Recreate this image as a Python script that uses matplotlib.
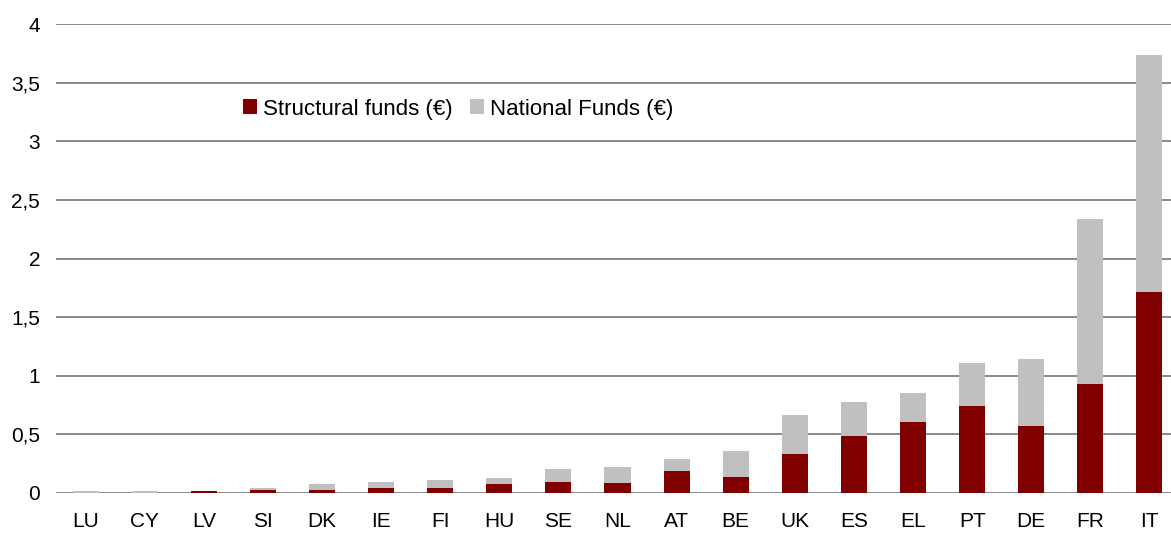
import matplotlib
matplotlib.use("Agg")
import matplotlib.pyplot as plt
from matplotlib.ticker import FuncFormatter, MultipleLocator
import numpy as np

countries = ["LU", "CY", "LV", "SI", "DK", "IE", "FI", "HU", "SE", "NL",
             "AT", "BE", "UK", "ES", "EL", "PT", "DE", "FR", "IT"]
structural = [0.0, 0.0, 0.014, 0.029, 0.029, 0.046, 0.046, 0.081, 0.098, 0.082,
              0.184, 0.136, 0.336, 0.489, 0.607, 0.743, 0.573, 0.932, 1.717]
total = [0.014, 0.013, 0.014, 0.046, 0.081, 0.090, 0.107, 0.124, 0.202, 0.226,
         0.294, 0.362, 0.667, 0.777, 0.853, 1.107, 1.141, 2.333, 3.734]
national = [t - s for t, s in zip(total, structural)]

plt.rcParams['font.family'] = ['Liberation Sans', 'DejaVu Sans']

fig = plt.figure(figsize=(11.71, 5.33), dpi=100)
ax = fig.add_axes([56 / 1171, 40 / 533, 1123 / 1171, 469 / 533])

x = np.arange(len(countries))
w = 0.44
b1 = ax.bar(x, structural, width=w, color="#800000", label="Structural funds (€)", zorder=3)
b2 = ax.bar(x, national, width=w, bottom=structural, color="#C0C0C0",
            label="National Funds (€)", zorder=3)

ax.set_xlim(-0.5, len(countries) - 0.5)
ax.set_ylim(0, 4)
ax.yaxis.set_major_locator(MultipleLocator(0.5))
ax.yaxis.set_major_formatter(FuncFormatter(lambda v, p: ("%g" % v).replace(".", ",")))
ax.set_xticks(x)
ax.set_xticklabels(countries)
ax.grid(axis="y", color="#808080", linewidth=1.3, zorder=0)
ax.set_axisbelow(True)
for s in ax.spines.values():
    s.set_visible(False)
ax.tick_params(axis="both", length=0, labelsize=15, colors="black")
ax.tick_params(axis="y", pad=11.5)
ax.tick_params(axis="x", pad=14)

fig.legend(handles=[b1, b2], loc="center left", bbox_to_anchor=(243 / 1171, 1 - 109 / 533),
           ncol=2, frameon=False, fontsize=16, handlelength=0.62, handleheight=0.62,
           handletextpad=0.3, columnspacing=0.75, borderaxespad=0, borderpad=0)

fig.savefig("out.png", dpi=100)
